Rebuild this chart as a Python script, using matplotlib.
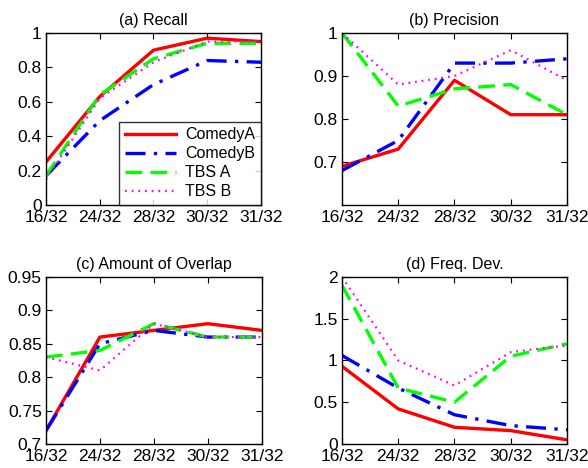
import matplotlib
matplotlib.use("Agg")
import matplotlib.pyplot as plt

plt.rcParams['font.family'] = ['Liberation Sans', 'DejaVu Sans']

x_labels = ["16/32", "24/32", "28/32", "30/32", "31/32"]
series_names = ["ComedyA", "ComedyB", "TBS A", "TBS B"]

recall = {
    "ComedyA": [0.25, 0.63, 0.90, 0.97, 0.95],
    "ComedyB": [0.17, 0.49, 0.70, 0.84, 0.83],
    "TBS A":   [0.17, 0.64, 0.85, 0.94, 0.94],
    "TBS B":   [0.15, 0.62, 0.83, 0.95, 0.95],
}
precision = {
    "ComedyA": [0.69, 0.73, 0.89, 0.81, 0.81],
    "ComedyB": [0.68, 0.75, 0.93, 0.93, 0.94],
    "TBS A":   [1.00, 0.83, 0.87, 0.88, 0.81],
    "TBS B":   [1.00, 0.88, 0.90, 0.96, 0.89],
}
overlap = {
    "ComedyA": [0.72, 0.86, 0.87, 0.88, 0.87],
    "ComedyB": [0.72, 0.85, 0.87, 0.86, 0.86],
    "TBS A":   [0.83, 0.84, 0.88, 0.86, 0.86],
    "TBS B":   [0.83, 0.81, 0.88, 0.86, 0.86],
}
freqdev = {
    "ComedyA": [0.93, 0.42, 0.20, 0.16, 0.05],
    "ComedyB": [1.06, 0.67, 0.35, 0.22, 0.17],
    "TBS A":   [1.90, 0.67, 0.50, 1.05, 1.20],
    "TBS B":   [2.00, 1.00, 0.70, 1.10, 1.18],
}

styles = {
    "ComedyA": dict(color=(1, 0, 0), linestyle='-', lw=2.4),
    "ComedyB": dict(color=(0, 0, 1), linestyle=(0, (6, 2.5, 1, 2.5)), lw=2.4),
    "TBS A":   dict(color=(0, 1, 0), linestyle=(0, (5, 2.5)), lw=2.4),
    "TBS B":   dict(color=(1, 0, 1), linestyle=(0, (0.8, 2.2)), lw=1.6),
}

fig = plt.figure(figsize=(5.88, 4.68), dpi=100)
panels = [
    ("(a) Recall", recall, [0.0782, 0.562, 0.3656, 0.3675], (0, 1), [0, 0.2, 0.4, 0.6, 0.8, 1], ["0", "0.2", "0.4", "0.6", "0.8", "1"]),
    ("(b) Precision", precision, [0.5816, 0.562, 0.3827, 0.3675], (0.6, 1), [0.7, 0.8, 0.9, 1], ["0.7", "0.8", "0.9", "1"]),
    ("(c) Amount of Overlap", overlap, [0.0782, 0.0513, 0.367, 0.357], (0.7, 0.95), [0.7, 0.75, 0.8, 0.85, 0.9, 0.95], ["0.7", "0.75", "0.8", "0.85", "0.9", "0.95"]),
    ("(d) Freq. Dev.", freqdev, [0.5816, 0.0513, 0.3827, 0.357], (0, 2), [0, 0.5, 1, 1.5, 2], ["0", "0.5", "1", "1.5", "2"]),
]

xs = list(range(len(x_labels)))
for i, (title, data, pos, ylim, yt, ytl) in enumerate(panels):
    ax = fig.add_axes(pos)
    for name in series_names:
        ax.plot(xs, data[name], label=name, **styles[name])
    ax.set_xlim(0, len(x_labels) - 1)
    ax.set_ylim(*ylim)
    ax.set_xticks(xs)
    ax.set_xticklabels(x_labels)
    ax.set_yticks(yt)
    ax.set_yticklabels(ytl)
    ax.tick_params(direction='in', top=True, right=True, labelsize=12.5, length=4, width=0.8)
    ax.tick_params(axis='x', pad=3.5)
    ax.tick_params(axis='y', pad=3)
    for s in ax.spines.values():
        s.set_linewidth(1.0)
    ax.set_title(title, fontsize=11.5, pad=6)
    if i == 0:
        leg = ax.legend(loc='lower right', fontsize=11.5, frameon=True, fancybox=False,
                        edgecolor='black', borderaxespad=0, handlelength=3.2,
                        borderpad=0.35, labelspacing=0.25, handletextpad=0.6)
        leg.get_frame().set_linewidth(1.0)

fig.savefig("out.png", dpi=100)
